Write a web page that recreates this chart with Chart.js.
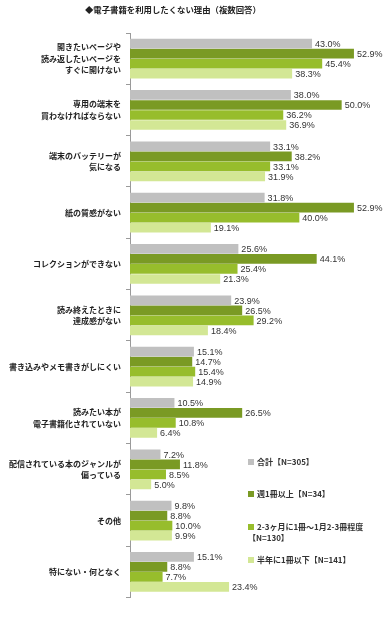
<!DOCTYPE html>
<html>
<head>
<meta charset="utf-8">
<script src="https://cdn.jsdelivr.net/npm/chart.js@4"></script>
<style>
  body { margin: 0; background: #fff; font-family: "Noto Sans CJK JP", sans-serif; }
  #wrap { position: relative; width: 386px; height: 620px; }
  #title { position: absolute; left: 85px; top: 3px; font-size: 8.4px; font-weight: bold; color: #222; white-space: nowrap; }
  .leg { position: absolute; left: 248px; font-size: 8px; font-weight: bold; color: #333; line-height: 11px; }
  .leg i { display: inline-block; width: 6px; height: 6px; margin-right: 3px; vertical-align: 0px; }
</style>
</head>
<body>
<div id="wrap">
  <canvas id="reasonChart" width="386" height="620"></canvas>
  <div id="title">◆電子書籍を利用したくない理由（複数回答）</div>
  <div id="legend"></div>
</div>
<script>
// category labels (multi-line)
const reasons = [
  ['開きたいページや', '読み返したいページを', 'すぐに開けない'],
  ['専用の端末を', '買わなければならない'],
  ['端末のバッテリーが', '気になる'],
  '紙の質感がない',
  'コレクションができない',
  ['読み終えたときに', '達成感がない'],
  '書き込みやメモ書きがしにくい',
  ['読みたい本が', '電子書籍化されていない'],
  ['配信されている本のジャンルが', '偏っている'],
  'その他',
  '特にない・何となく'
];

const seriesNames = ['合計【N=305】', '週1冊以上【N=34】', '2-3ヶ月に1冊～1月2-3冊程度', '半年に1冊以下【N=141】'];
const seriesColors = ['#c0c0c0', '#7a9a24', '#97bd2c', '#d3e795'];

const total   = [43.0, 38.0, 33.1, 31.8, 25.6, 23.9, 15.1, 10.5, 7.2, 9.8, 15.1];
const weekly  = [52.9, 50.0, 38.2, 52.9, 44.1, 26.5, 14.7, 26.5, 11.8, 8.8, 8.8];
const monthly = [45.4, 36.2, 33.1, 40.0, 25.4, 29.2, 15.4, 10.8, 8.5, 10.0, 7.7];
const halfYear = [38.3, 36.9, 31.9, 19.1, 21.3, 18.4, 14.9, 6.4, 5.0, 9.9, 23.4];

// legend (drawn as html, placed inside the plot like the original)
const legendTexts = [['合計【N=305】'], ['週1冊以上【N=34】'], ['2-3ヶ月に1冊～1月2-3冊程度', '【N=130】'], ['半年に1冊以下【N=141】']];
const legendTops = [456, 488, 521, 554];
const legendBox = document.getElementById('legend');
legendTexts.forEach((lines, i) => {
  const d = document.createElement('div');
  d.className = 'leg';
  d.style.top = legendTops[i] + 'px';
  d.innerHTML = '<i style="background:' + seriesColors[i] + '"></i>' + lines.join('<br>');
  legendBox.appendChild(d);
});

// value labels at the end of every bar
const valueLabels = {
  id: 'valueLabels',
  afterDatasetsDraw(chart) {
    const ctx = chart.ctx;
    ctx.save();
    ctx.font = '9px "Liberation Sans", Arial, sans-serif';
    ctx.fillStyle = '#333';
    ctx.textBaseline = 'middle';
    chart.data.datasets.forEach((ds, i) => {
      chart.getDatasetMeta(i).data.forEach((bar, j) => {
        ctx.fillText(ds.data[j].toFixed(1) + '%', bar.x + 3, bar.y + 1);
      });
    });
    ctx.restore();
  }
};

const ctx = document.getElementById('reasonChart').getContext('2d');
new Chart(ctx, {
  type: 'bar',
  data: {
    labels: reasons,
    datasets: [total, weekly, monthly, halfYear].map((d, i) => ({
      label: seriesNames[i],
      data: d,
      backgroundColor: seriesColors[i],
      categoryPercentage: 0.78,
      barPercentage: 0.97
    }))
  },
  options: {
    indexAxis: 'y',
    responsive: false,
    animation: false,
    layout: { padding: { top: 33, bottom: 3, right: 2, left: 0 } },
    plugins: { legend: { display: false }, tooltip: { enabled: false } },
    scales: {
      x: { display: false, min: 0, max: 60 },
      y: {
        afterFit(scale) { scale.width = 130; },
        border: { color: '#9a9a9a' },
        grid: { drawOnChartArea: false, tickLength: 4, color: '#9a9a9a', offset: true },
        ticks: {
          color: '#222',
          padding: 5,
          font: { family: '"Noto Sans CJK JP", sans-serif', size: 8, weight: 'bold', lineHeight: 1.45 }
        }
      }
    }
  },
  plugins: [valueLabels]
});
</script>
</body>
</html>
